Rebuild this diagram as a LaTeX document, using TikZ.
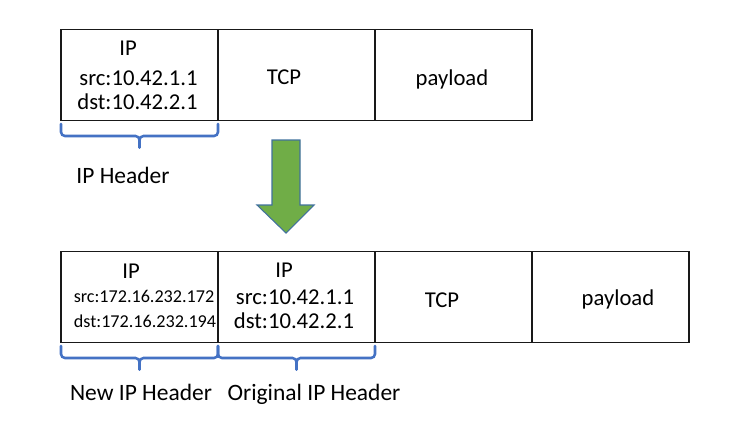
\documentclass[tikz,border=0pt]{standalone}
\usepackage{fontspec}
\setmainfont{Carlito}
\usetikzlibrary{positioning,calc}
\definecolor{braceblue}{HTML}{4472C4}
\definecolor{arrowgreen}{HTML}{70AD47}
\definecolor{arrowedge}{HTML}{41719C}

\begin{document}
\begin{tikzpicture}[
  x=0.75pt,
  y=-0.75pt,
  cell/.style={
    draw=black!90,
    line width=1.4pt,
    minimum width=117.75pt,
    minimum height=68.25pt,
    inner sep=0pt,
    outer sep=0pt
  },
  boxtext/.style={font=\fontsize{17}{20}\selectfont, anchor=base, inner sep=0pt},
  smalltext/.style={font=\fontsize{13.6}{16}\selectfont, anchor=base, inner sep=0pt},
  hdrlabel/.style={font=\fontsize{17.6}{21}\selectfont, anchor=base, inner sep=0pt},
  hdrbrace/.style={draw=braceblue, line width=1.9pt, rounded corners=3pt, line cap=round},
  downarrow/.style={fill=arrowgreen, draw=arrowedge, line width=0.8pt, line join=miter}
]
\useasboundingbox (0,0) rectangle (738,425);

% ---------------------------------------------------------------------------
% Original packet
% ---------------------------------------------------------------------------
\node[cell] (hdr) at (139.5,75) {};
\node[cell, right=0pt of hdr] (tcp) {};
\node[cell, right=0pt of tcp] (payload) {};

\node[boxtext] (hdrip) at (128,55) {IP};
\node[boxtext] (hdrsrc) at (138.5,85) {src:10.42.1.1};
\node[boxtext] (hdrdst) at (137.5,109) {dst:10.42.2.1};
\node[boxtext] (tcptxt) at (284,84) {TCP};
\node[boxtext] (payloadtxt) at (452,85) {payload};

\draw[hdrbrace] ($(hdr.south west)+(0,3.5)$) |- ($(hdr.south)+(0,15.5)$) -- ++(0,11.5);
\draw[hdrbrace] ($(hdr.south east)+(0,3.5)$) |- ($(hdr.south)+(0,15.5)$) -- ++(0,11.5);
\node[hdrlabel] (hdrname) at (123,183) {IP Header};

% ---------------------------------------------------------------------------
% Encapsulation arrow
% ---------------------------------------------------------------------------
\draw[downarrow] (272,140) -- (300,140) -- (300,205) -- (314,205)
  -- (286,233) -- (257,205) -- (272,205) -- cycle;

% ---------------------------------------------------------------------------
% Encapsulated packet
% ---------------------------------------------------------------------------
\node[cell] (newhdr) at (139.5,297) {};
\node[cell, right=0pt of newhdr] (orighdr) {};
\node[cell, right=0pt of orighdr] (tcpb) {};
\node[cell, right=0pt of tcpb] (payloadb) {};

\node[boxtext] (newip) at (131,278) {IP};
\node[smalltext] (newsrc) at (144,302) {src:172.16.232.172};
\node[smalltext] (newdst) at (145,327) {dst:172.16.232.194};
\node[boxtext] (origip) at (284,277) {IP};
\node[boxtext] (origsrc) at (295,304) {src:10.42.1.1};
\node[boxtext] (origdst) at (294,328.5) {dst:10.42.2.1};
\node[boxtext] (tcpbtxt) at (442,307) {TCP};
\node[boxtext] (payloadbtxt) at (618,305) {payload};

\draw[hdrbrace] ($(newhdr.south west)+(0,3.5)$) |- ($(newhdr.south)+(0,15.5)$) -- ++(0,11.5);
\draw[hdrbrace] ($(newhdr.south east)+(0,3.5)$) |- ($(newhdr.south)+(0,15.5)$) -- ++(0,11.5);
\draw[hdrbrace] ($(orighdr.south west)+(0,3.5)$) |- ($(orighdr.south)+(0,15.5)$) -- ++(0,11.5);
\draw[hdrbrace] ($(orighdr.south east)+(0,3.5)$) |- ($(orighdr.south)+(0,15.5)$) -- ++(0,11.5);
\node[hdrlabel] (newname) at (141,400) {New IP Header};
\node[hdrlabel] (origname) at (314,400) {Original IP Header};

\end{tikzpicture}
\end{document}
